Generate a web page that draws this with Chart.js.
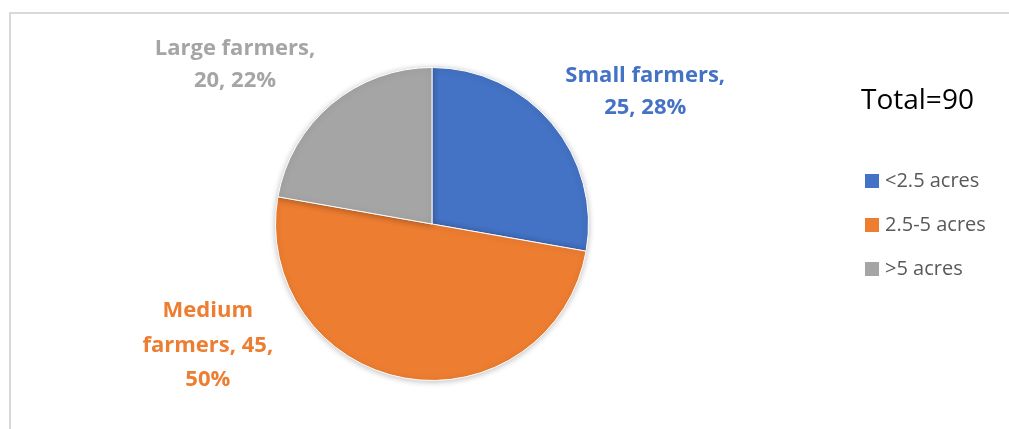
<!DOCTYPE html>
<html>
<head>
<meta charset="utf-8">
<script src="https://cdn.jsdelivr.net/npm/chart.js@4"></script>
<style>
  html, body { margin: 0; padding: 0; background: #fff; overflow: hidden; width: 1009px; height: 429px; }
  #frame { position: absolute; left: 9px; top: 12px; width: 1100px; height: 500px; border: 2px solid #d9d9d9; box-sizing: border-box; }
  #pieChart { position: absolute; left: 0; top: 0; }
</style>
</head>
<body>
<div id="frame"></div>
<canvas id="pieChart" width="1009" height="429"></canvas>
<script>
// dữ liệu
const categories = ["<2.5 acres", "2.5-5 acres", ">5 acres"];
const groupNames = ["Small farmers", "Medium farmers", "Large farmers"];
const farmerCounts = [25, 45, 20];
const sliceColors = ["#4472C4", "#ED7D31", "#A5A5A5"];
const totalText = "Total=90";

// label lines per slice (Excel-style wrapping)
function labelLines(i, pct) {
    const v = farmerCounts[i];
    if (i === 1) return ["Medium", "farmers, " + v + ",", pct + "%"];
    return [groupNames[i] + ",", v + ", " + pct + "%"];
}

// angle (deg from top) and distance factor used to place each label
const labelAngle = [58.1, 241.5, 309];
const labelDist = [1.605, 1.63, 1.62];

const labelPlugin = {
    id: "pieLabels",
    beforeDatasetsDraw(chart) {
        const c = chart.ctx;
        c.save();
        c.shadowColor = "rgba(0,0,0,0.25)";
        c.shadowBlur = 6;
        c.shadowOffsetX = 0;
        c.shadowOffsetY = 1;
    },
    afterDatasetsDraw(chart) {
        const c = chart.ctx;
        c.restore();
        const meta = chart.getDatasetMeta(0);
        const total = farmerCounts.reduce((a, b) => a + b, 0);
        c.save();
        c.font = "bold 22px 'Open Sans'";
        c.textAlign = "center";
        c.textBaseline = "middle";
        meta.data.forEach((arc, i) => {
            const pct = Math.round(farmerCounts[i] / total * 100);
            const a = labelAngle[i] * Math.PI / 180;
            const r = arc.outerRadius * labelDist[i];
            const cx = arc.x + Math.sin(a) * r;
            const cy = arc.y - Math.cos(a) * r;
            const lines = labelLines(i, pct);
            const lh = i === 1 ? 34.5 : 32;
            c.fillStyle = sliceColors[i];
            lines.forEach((t, k) => {
                c.fillText(t, cx, cy + (k - (lines.length - 1) / 2) * lh);
            });
        });

        // total + legend
        c.textAlign = "left";
        c.fillStyle = "#000";
        c.font = "28px 'Open Sans'";
        c.fillText(totalText, 861, 101);
        c.font = "20px 'Open Sans'";
        categories.forEach((cat, i) => {
            const y = 181 + i * 44;
            c.fillStyle = sliceColors[i];
            c.fillRect(865, y - 7, 14, 14);
            c.fillStyle = "#595959";
            c.fillText(cat, 885, y);
        });
        c.restore();
    }
};

var ctx = document.getElementById("pieChart").getContext("2d");
var pieChart = new Chart(ctx, {
    type: "pie",
    data: {
        labels: categories,
        datasets: [{
            data: farmerCounts,
            backgroundColor: sliceColors,
            borderColor: "#ffffff",
            borderWidth: 1,
        }],
    },
    options: {
        responsive: false,
        animation: false,
        layout: {
            padding: { left: 275, right: 420, top: 67, bottom: 48 },
        },
        plugins: {
            legend: { display: false },
            tooltip: { enabled: false },
        },
    },
    plugins: [labelPlugin],
});
</script>
</body>
</html>
